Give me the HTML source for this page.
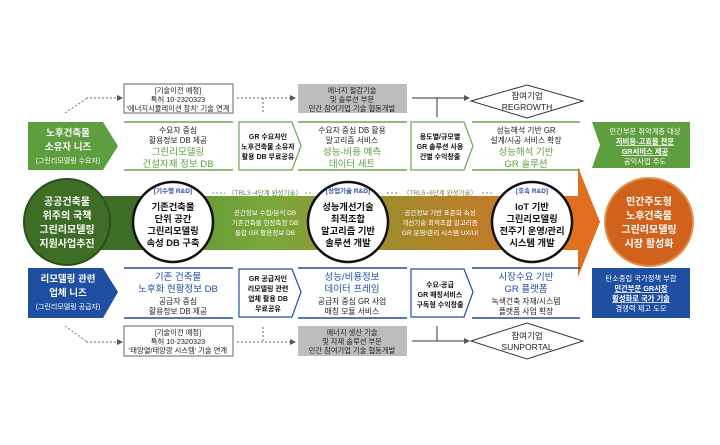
<!DOCTYPE html>
<html><head><meta charset="utf-8"><style>
html,body{margin:0;padding:0;background:#fff}
svg text{font-family:"Liberation Sans","Noto Sans CJK KR",sans-serif}
</style></head><body>
<svg width="720" height="440" viewBox="0 0 720 440" xmlns="http://www.w3.org/2000/svg">
<defs>
<linearGradient id="band" x1="0" x2="1" y1="0" y2="0">
<stop offset="0" stop-color="#4f8a2c"/><stop offset="0.35" stop-color="#7aa83c"/>
<stop offset="0.6" stop-color="#a08a2c"/><stop offset="0.85" stop-color="#c47a28"/><stop offset="1" stop-color="#e07020"/>
</linearGradient>
<marker id="ar" markerWidth="6" markerHeight="6" refX="5" refY="3" orient="auto"><path d="M0,0 L6,3 L0,6z" fill="#555"/></marker>
</defs>

<!-- TOP ROW -->
<line x1="65" y1="113" x2="86" y2="99" stroke="#777" stroke-dasharray="2,2"/>
<line x1="86" y1="98" x2="122" y2="98" stroke="#666" stroke-dasharray="2,2" marker-end="url(#ar)"/>
<rect x="124" y="84" width="109" height="29" fill="#fff" stroke="#666"/>
<g font-size="7.3" text-anchor="middle" fill="#222">
<text x="178" y="93">[기술이전 예정]</text><text x="178" y="102">특허 10-2320323</text><text x="178" y="111">'에너지시뮬레이션 장치' 기술 연계</text></g>
<line x1="237" y1="98" x2="295" y2="98" stroke="#666" stroke-dasharray="2,2" marker-end="url(#ar)"/>
<line x1="263" y1="98" x2="263" y2="114" stroke="#666" stroke-dasharray="2,2"/>
<rect x="298" y="84" width="109" height="29" fill="#bdbdbd"/>
<g font-size="7.3" text-anchor="middle" fill="#222">
<text x="352" y="93">에너지 절감기술</text><text x="352" y="102">및 솔루션 부문</text><text x="352" y="111">민간 참여기업 기술 협동개발</text></g>
<line x1="412" y1="98" x2="469" y2="98" stroke="#333" marker-end="url(#ar)"/>
<line x1="437" y1="98" x2="437" y2="117" stroke="#333"/>
<polygon points="471,101 527,85 583,101 527,118" fill="#fff" stroke="#333"/>
<g font-size="8.5" text-anchor="middle" fill="#222"><text x="527" y="99">참여기업</text><text x="527" y="110">REGROWTH</text></g>

<!-- GREEN ROW -->
<polygon points="28,122 103,122 118,146 103,170 28,170" fill="#5f9e3f"/>
<g font-size="9.5" text-anchor="middle" fill="#fff" font-weight="bold"><text x="68" y="136">노후건축물</text><text x="68" y="150">소유자 니즈</text></g>
<text x="68" y="163" font-size="7" text-anchor="middle" fill="#fff">(그린리모델링 수요자)</text>
<g stroke="#6aa84f" stroke-width="1.5">
<line x1="124" y1="122" x2="233" y2="122"/><line x1="124" y1="170" x2="233" y2="170"/>
<line x1="298" y1="122" x2="407" y2="122"/><line x1="298" y1="170" x2="407" y2="170"/>
<line x1="472" y1="122" x2="580" y2="122"/><line x1="472" y1="170" x2="580" y2="170"/></g>
<polygon points="239,122 292,122 301,146 292,170 239,170" fill="#fff" stroke="#6aa84f" stroke-width="1.2"/>
<polygon points="411,122 464,122 473,146 464,170 411,170" fill="#fff" stroke="#6aa84f" stroke-width="1.2"/>
<g font-size="7.8" text-anchor="middle" fill="#222">
<text x="178" y="133">수요자 중심</text><text x="178" y="143">활용정보 DB 제공</text>
<text x="352" y="133">수요자 중심 DB 활용</text><text x="352" y="143">알고리즘 서비스</text>
<text x="526" y="133">성능해석 기반 GR</text><text x="526" y="143">설계/시공 서비스 확장</text></g>
<g font-size="9.5" text-anchor="middle" fill="#5f9e3f">
<text x="178" y="155">그린리모델링</text><text x="178" y="167">건설자재 정보 DB</text>
<text x="352" y="155">성능-비용 예측</text><text x="352" y="167">데이터 세트</text>
<text x="526" y="155">성능해석 기반</text><text x="526" y="167">GR 솔루션</text></g>
<g font-size="7" text-anchor="middle" fill="#111" font-weight="bold">
<text x="268" y="139">GR 수요자인</text><text x="268" y="149">노후건축물 소유자</text><text x="268" y="159">활용 DB 무료공유</text>
<text x="440" y="139">용도별/규모별</text><text x="440" y="149">GR 솔루션 사용</text><text x="440" y="159">건별 수익창출</text></g>
<polygon points="592,122 690,122 690,168 592,168 600,145" fill="#5f9e3f"/>
<g font-size="7.3" text-anchor="middle" fill="#fff">
<text x="645" y="134">민간부문 취약계층 대상</text>
<text x="645" y="144" text-decoration="underline" font-weight="bold">저비용-고효율 전문</text>
<text x="645" y="154" text-decoration="underline" font-weight="bold">GR서비스 제공</text>
<text x="645" y="164">공익사업 주도</text></g>

<!-- MIDDLE BAND -->
<rect x="100" y="196" width="480" height="54" fill="url(#band)"/>
<rect x="100" y="196" width="45" height="54" fill="#3e6e26"/>
<polygon points="578,167 600,222 578,277" fill="#e07020"/>
<circle cx="67" cy="222" r="43" fill="#3e6e26" stroke="#2b4f1a" stroke-width="2"/>
<g font-size="10" text-anchor="middle" fill="#fff" font-weight="bold">
<text x="67" y="205">공공건축물</text><text x="67" y="219">위주의 국책</text><text x="67" y="233">그린리모델링</text><text x="67" y="247">지원사업추진</text></g>
<g font-size="6.5" fill="#fff" text-anchor="middle">
<text x="265" y="195" fill="#4f8a2c">〈TRL3~4단계 완성기술〉</text>
<text x="265" y="215">공간정보 수집/분석 DB</text><text x="265" y="225">기존건축물 현장측정 DB</text><text x="265" y="235">통합 GR 활용정보 DB</text>
<text x="440" y="195" fill="#8a7a28">〈TRL5~6단계 완성기술〉</text>
<text x="440" y="215">공간정보 기반 표준화 속성</text><text x="440" y="225">개선기술 최적조합 알고리즘</text><text x="440" y="235">GR 운영/관리 시스템 UX/UI</text></g>
<g stroke="#7aa83c" stroke-dasharray="2,2"><line x1="212" y1="193" x2="225" y2="193"/><line x1="305" y1="193" x2="312" y2="193"/></g>
<g stroke="#a08a2c" stroke-dasharray="2,2"><line x1="387" y1="193" x2="398" y2="193"/><line x1="482" y1="193" x2="494" y2="193"/></g>
<g fill="#fff" stroke="#111" stroke-width="2.5">
<circle cx="173" cy="222" r="40"/><circle cx="348" cy="222" r="40"/><circle cx="532" cy="222" r="40"/></g>
<g font-size="6.5" text-anchor="middle" fill="#2a4fa0" font-weight="bold">
<text x="173" y="193">[기수행 R&amp;D]</text><text x="348" y="193">[상업기술 R&amp;D]</text><text x="532" y="193">[후속 R&amp;D]</text></g>
<g font-size="9.3" text-anchor="middle" fill="#111" font-weight="bold">
<text x="173" y="210">기존건축물</text><text x="173" y="222">단위 공간</text><text x="173" y="234">그린리모델링</text><text x="173" y="246">속성 DB 구축</text>
<text x="348" y="210">성능개선기술</text><text x="348" y="222">최적조합</text><text x="348" y="234">알고리즘 기반</text><text x="348" y="246">솔루션 개발</text>
<text x="532" y="210">IoT 기반</text><text x="532" y="222">그린리모델링</text><text x="532" y="234">전주기 운영/관리</text><text x="532" y="246">시스템 개발</text></g>
<circle cx="649" cy="222" r="44" fill="#d0621c" stroke="#e0904a" stroke-width="2"/>
<g font-size="10" text-anchor="middle" fill="#fff" font-weight="bold">
<text x="649" y="205">민간주도형</text><text x="649" y="219">노후건축물</text><text x="649" y="233">그린리모델링</text><text x="649" y="247">시장 활성화</text></g>

<!-- BLUE ROW -->
<polygon points="28,268 103,268 118,292 103,318 28,318" fill="#1f4fa0"/>
<g font-size="9.5" text-anchor="middle" fill="#fff" font-weight="bold"><text x="68" y="282">리모델링 관련</text><text x="68" y="296">업체 니즈</text></g>
<text x="68" y="309" font-size="7" text-anchor="middle" fill="#fff">(그린리모델링 공급자)</text>
<g stroke="#1f4fa0" stroke-width="1.5">
<line x1="124" y1="268" x2="233" y2="268"/><line x1="124" y1="318" x2="233" y2="318"/>
<line x1="298" y1="268" x2="407" y2="268"/><line x1="298" y1="318" x2="407" y2="318"/>
<line x1="472" y1="268" x2="580" y2="268"/><line x1="472" y1="318" x2="580" y2="318"/></g>
<polygon points="239,269 292,269 301,292 292,317 239,317" fill="#fff" stroke="#1f4fa0" stroke-width="1.2"/>
<polygon points="411,269 464,269 473,292 464,317 411,317" fill="#fff" stroke="#1f4fa0" stroke-width="1.2"/>
<g font-size="9.5" text-anchor="middle" fill="#1f4fa0">
<text x="178" y="280">기존 건축물</text><text x="178" y="292">노후화 현황정보 DB</text>
<text x="352" y="280">성능/비용정보</text><text x="352" y="292">데이터 프레임</text>
<text x="526" y="280">시장수요 기반</text><text x="526" y="292">GR 플랫폼</text></g>
<g font-size="7.8" text-anchor="middle" fill="#222">
<text x="178" y="304">공급자 중심</text><text x="178" y="314">활용정보 DB 제공</text>
<text x="352" y="304">공급자 중심 GR 사업</text><text x="352" y="314">매칭 모듈 서비스</text>
<text x="526" y="304">녹색건축 자재/시스템</text><text x="526" y="314">플랫폼 사업 확장</text></g>
<g font-size="7" text-anchor="middle" fill="#111" font-weight="bold">
<text x="268" y="281">GR 공급자인</text><text x="268" y="291">리모델링 관련</text><text x="268" y="301">업체 활용 DB</text><text x="268" y="311">무료공유</text>
<text x="440" y="287">수요-공급</text><text x="440" y="297">GR 매칭서비스</text><text x="440" y="307">구독형 수익창출</text></g>
<rect x="592" y="268" width="98" height="50" fill="#1f4fa0"/>
<g font-size="7.3" text-anchor="middle" fill="#fff">
<text x="641" y="281">탄소중립 국가정책 부합</text>
<text x="641" y="291" text-decoration="underline" font-weight="bold">민간부문 GR시장</text>
<text x="641" y="301" text-decoration="underline" font-weight="bold">활성화로 국가 기술</text>
<text x="641" y="311">경쟁력 제고 도모</text></g>

<!-- BOTTOM ROW -->
<line x1="65" y1="326" x2="86" y2="341" stroke="#777" stroke-dasharray="2,2"/>
<line x1="86" y1="342" x2="122" y2="342" stroke="#666" stroke-dasharray="2,2" marker-end="url(#ar)"/>
<rect x="124" y="326" width="109" height="30" fill="#fff" stroke="#666"/>
<g font-size="7.3" text-anchor="middle" fill="#222">
<text x="178" y="335">[기술이전 예정]</text><text x="178" y="344">특허 10-2320323</text><text x="178" y="353">'태양열/태양광 시스템' 기술 연계</text></g>
<line x1="237" y1="342" x2="295" y2="342" stroke="#666" stroke-dasharray="2,2" marker-end="url(#ar)"/>
<line x1="263" y1="327" x2="263" y2="342" stroke="#666" stroke-dasharray="2,2"/>
<rect x="298" y="326" width="109" height="30" fill="#bdbdbd"/>
<g font-size="7.3" text-anchor="middle" fill="#222">
<text x="352" y="335">에너지 생산 기술</text><text x="352" y="344">및 자재 솔루션 부문</text><text x="352" y="353">민간 참여기업 기술 협동개발</text></g>
<line x1="412" y1="341" x2="469" y2="341" stroke="#333" marker-end="url(#ar)"/>
<line x1="437" y1="326" x2="437" y2="341" stroke="#333"/>
<polygon points="471,341 527,323 583,341 527,359" fill="#fff" stroke="#333"/>
<g font-size="8.5" text-anchor="middle" fill="#222"><text x="527" y="339">참여기업</text><text x="527" y="350">SUNPORTAL</text></g>
</svg>
</body></html>
